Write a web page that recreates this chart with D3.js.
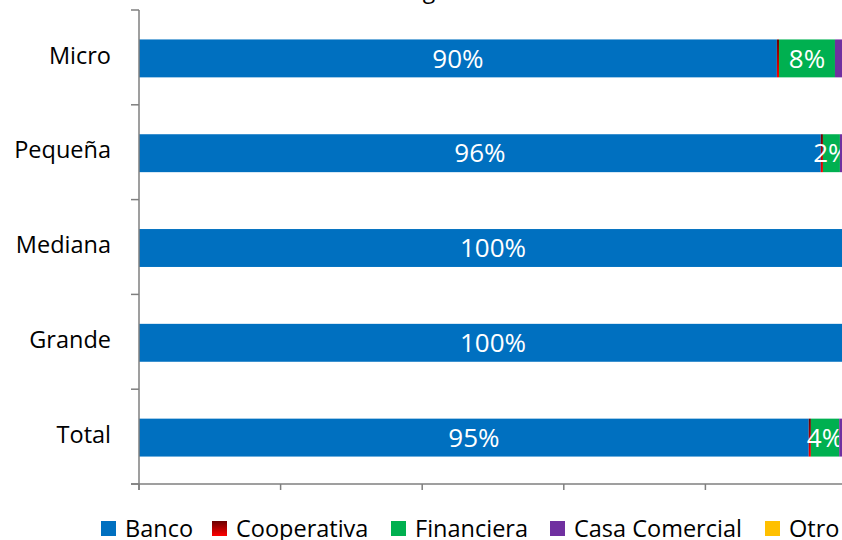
<!DOCTYPE html>
<html>
<head>
<meta charset="utf-8">
<script src="https://cdn.jsdelivr.net/npm/d3@7"></script>
<style>
body { margin: 0; background: #fff; }
text { font-family: "Open Sans", sans-serif; }
</style>
</head>
<body>
<div id="chart"></div>
<script>
const width = 842;
const height = 540;

const categories = ["Micro", "Pequeña", "Mediana", "Grande", "Total"];
const seriesNames = ["Banco", "Cooperativa", "Financiera", "Casa Comercial", "Otro"];
const banco = [90.1, 96.3, 100, 100, 94.6];
const cooperativa = [0.3, 0.3, 0, 0, 0.3];
const financiera = [7.9, 2.4, 0, 0, 4.0];
const casaComercial = [1.7, 1.0, 0, 0, 1.1];
const otro = [0, 0, 0, 0, 0];
const xTicks = [0, 20, 40, 60, 80, 100];
const title = "Origen del crédito";

const colors = ["#0070C0", "url(#coopGrad)", "#00B050", "#7030A0", "#FFC000"];

// table for stack
const table = categories.map((c, i) => ({
    cat: c,
    "Banco": banco[i],
    "Cooperativa": cooperativa[i],
    "Financiera": financiera[i],
    "Casa Comercial": casaComercial[i],
    "Otro": otro[i]
}));

const stacked = d3.stack().keys(seriesNames)(table);

const xScale = d3.scaleLinear().domain([0, 100]).range([139, 847]);
const yScale = d3.scaleBand().domain(categories).range([11, 485]).paddingInner(0.6).paddingOuter(0.3);

const svg = d3.select("#chart").append("svg").attr("width", width).attr("height", height);

const defs = svg.append("defs");
const grad = defs.append("linearGradient").attr("id", "coopGrad")
    .attr("x1", 0).attr("y1", 0).attr("x2", 0).attr("y2", 1);
grad.append("stop").attr("offset", "0%").attr("stop-color", "#6a0000");
grad.append("stop").attr("offset", "100%").attr("stop-color", "#ff0000");

// title (mostly above the visible area)
svg.append("text")
    .attr("x", 486)
    .attr("y", -2)
    .attr("text-anchor", "middle")
    .style("font-size", "23px")
    .style("fill", "#000")
    .text(title);

// bars
const groups = svg.selectAll("g.series")
    .data(stacked)
    .join("g")
    .attr("class", "series")
    .attr("fill", (d, i) => colors[i]);

groups.selectAll("rect")
    .data(d => d)
    .join("rect")
    .attr("x", d => xScale(d[0]))
    .attr("y", d => yScale(d.data.cat))
    .attr("width", d => xScale(d[1]) - xScale(d[0]))
    .attr("height", yScale.bandwidth());

// value labels (only where the segment is big enough)
groups.selectAll("text")
    .data(d => d.filter(s => s[1] - s[0] >= 2))
    .join("text")
    .attr("x", d => xScale((d[0] + d[1]) / 2))
    .attr("y", d => yScale(d.data.cat) + yScale.bandwidth() / 2)
    .attr("dy", "0.35em")
    .attr("text-anchor", "middle")
    .style("font-size", "26px")
    .style("fill", "#fff")
    .text(d => Math.round(d[1] - d[0]) + "%");

// axes
const axisColor = "#7f7f7f";
const bounds = d3.range(categories.length + 1).map(i => 10 + i * (474 / categories.length));

svg.append("line")
    .attr("x1", 139).attr("x2", 139)
    .attr("y1", 10).attr("y2", 490)
    .style("stroke", axisColor).style("stroke-width", 1.5);

svg.selectAll("line.ytick")
    .data(bounds)
    .join("line")
    .attr("class", "ytick")
    .attr("x1", 131).attr("x2", 139)
    .attr("y1", d => d).attr("y2", d => d)
    .style("stroke", axisColor).style("stroke-width", 1.5);

svg.append("line")
    .attr("x1", 131).attr("x2", 847)
    .attr("y1", 484).attr("y2", 484)
    .style("stroke", axisColor).style("stroke-width", 1.5);

svg.selectAll("line.xtick")
    .data(xTicks)
    .join("line")
    .attr("class", "xtick")
    .attr("x1", d => xScale(d)).attr("x2", d => xScale(d))
    .attr("y1", 484).attr("y2", 490)
    .style("stroke", axisColor).style("stroke-width", 1.5);

svg.selectAll("text.ylabel")
    .data(categories)
    .join("text")
    .attr("class", "ylabel")
    .attr("x", 111)
    .attr("y", d => yScale(d) + yScale.bandwidth() / 2)
    .attr("dy", "0.22em")
    .attr("text-anchor", "end")
    .style("font-size", "23.5px")
    .style("fill", "#000")
    .text(d => d);

// legend
const legendX = [101, 212, 391, 550, 765];
const legend = svg.selectAll("g.legend")
    .data(seriesNames)
    .join("g")
    .attr("class", "legend")
    .attr("transform", (d, i) => `translate(${legendX[i]},521)`);

legend.append("rect")
    .attr("width", 15).attr("height", 15)
    .attr("fill", (d, i) => colors[i]);

legend.append("text")
    .attr("x", 24)
    .attr("y", 16)
    .style("font-size", "23.5px")
    .style("fill", "#000")
    .text(d => d);
</script>
</body>
</html>
